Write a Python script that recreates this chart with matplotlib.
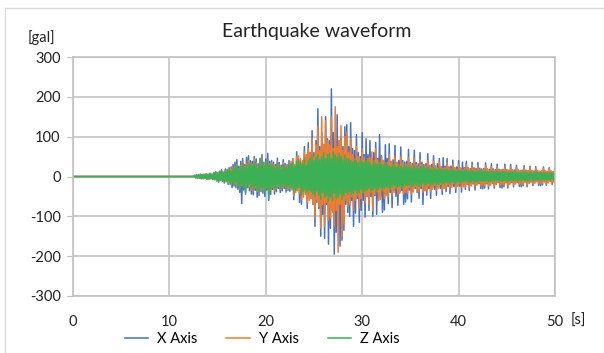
import numpy as np
import matplotlib.pyplot as plt

# samples every 0.1 s starting at 12.5 s (before that the record is flat)
t_start = 12.5
dt = 0.1

x_axis = [0,
    3, -3, 4, -5, 3, -4, 6, -4, 5, -6, 4, -5, 7, -6, 5, -7, 8, -5, 6, -7,
    10, -8, 12, -11, 9, -14, 13, -10, 17, -12, 11, -16, 19, -13, 15, -20, 22, -15, 24, -28,
    30, -24, 36, -28, 42, -32, 26, -40, 38, -68, 45, -34, 30, -40, 48, -28, 52, -36, 40, -44,
    38, -46, 50, -35, 44, -52, 32, -48, 46, -38, 55, -42, 36, -50, 44, -34, 58, -60, 38, -45,
    40, -32, 36, -44, 30, -38, 46, -30, 35, -40, 28, -36, 42, -30, 33, -39, 30, -35, 40, -37,
    30, -28, 45, -58, 25, -35, 62, -30, 40, -65, 35, -70, 32, -45, 75, -38, 50, -80, 85, -48,
    60, -55, 115, -70, 60, -125, 90, -65, 170, -80, 75, -150, 110, -95, 80, -155, 150, -70, 95, -170,
    90, -130, 220, -85, 110, -195, 95, -140, 155, -100, 80, -175, 100, -160, 75, -135, 125, -70, 130, -90,
    75, -100, 135, -60, 70, -125, 65, -92, 105, -55, 60, -115, 50, -85, 110, -60, 55, -102, 95, -50,
    55, -85, 90, -50, 45, -100, 60, -48, 85, -95, 45, -60, 105, -50, 52, -90, 40, -84, 80, -45,
    45, -68, 82, -40, 38, -78, 42, -36, 78, -50, 35, -72, 40, -38, 74, -35, 40, -70, 36, -64,
    38, -56, 68, -34, 35, -64, 32, -38, 66, -30, 35, -40, 32, -55, 60, -30, 36, -70, 30, -35,
    32, -47, 57, -30, 28, -55, 30, -28, 52, -32, 26, -47, 32, -26, 45, -30, 24, -45, 47, -28,
    26, -38, 45, -25, 24, -43, 26, -22, 41, -25, 22, -40, 24, -22, 40, -24, 21, -39, 36, -22,
    22, -32, 38, -20, 22, -35, 20, -22, 36, -19, 22, -34, 20, -20, 35, -18, 21, -30, 19, -31,
    20, -29, 34, -18, 19, -31, 18, -20, 32, -17, 19, -29, 17, -19, 31, -16, 18, -28, 17, -29,
    18, -26, 31, -16, 17, -29, 16, -18, 30, -15, 17, -26, 16, -17, 28, -15, 16, -25, 15, -26,
    16, -23, 27, -14, 15, -26, 15, -16, 26, -14, 15, -23, 14, -15, 25, -13, 15, -22, 13, -23,
    14, -21, 24, -13, 14, -22, 13, -14, 22, -12, 13, -20, 12, -13, 21]

y_axis = [0,
    2, -2, 3, -4, 2, -3, 5, -3, 4, -5, 3, -4, 6, -5, 4, -6, 7, -4, 5, -6,
    8, -6, 10, -9, 7, -12, 11, -8, 14, -10, 9, -13, 16, -11, 12, -15, 18, -13, 20, -16,
    22, -18, 26, -20, 30, -24, 19, -32, 28, -22, 36, -27, 25, -30, 33, -21, 40, -26, 29, -35,
    30, -36, 44, -28, 34, -38, 26, -42, 38, -30, 46, -33, 29, -37, 36, -28, 42, -40, 31, -35,
    34, -26, 30, -36, 24, -31, 38, -25, 29, -33, 22, -28, 35, -23, 27, -32, 25, -29, 33, -30,
    38, -34, 44, -48, 30, -40, 50, -36, 52, -42, 45, -58, 40, -52, 62, -45, 55, -66, 70, -60,
    60, -55, 95, -70, 50, -105, 80, -60, 125, -75, 65, -130, 150, -70, 80, -125, 140, -65, 90, -110,
    80, -105, 150, -90, 70, -125, 175, -85, 75, -190, 90, -70, 128, -150, 65, -120, 100, -60, 112, -75,
    60, -70, 95, -50, 55, -85, 45, -60, 75, -48, 50, -80, 42, -55, 70, -40, 48, -65, 38, -50,
    45, -70, 48, -40, 62, -85, 40, -45, 70, -38, 42, -60, 35, -58, 50, -36, 40, -55, 34, -48,
    35, -50, 55, -32, 38, -48, 30, -40, 52, -30, 36, -45, 30, -42, 50, -28, 34, -44, 28, -40,
    30, -42, 48, -28, 32, -44, 26, -38, 46, -25, 30, -40, 24, -36, 42, -24, 30, -40, 22, -36,
    26, -36, 40, -24, 28, -38, 22, -32, 38, -22, 26, -34, 21, -30, 36, -20, 25, -34, 20, -30,
    22, -30, 34, -20, 24, -32, 19, -27, 32, -18, 22, -30, 18, -25, 30, -17, 21, -28, 17, -26,
    20, -26, 30, -18, 21, -28, 17, -24, 28, -16, 19, -26, 16, -22, 27, -15, 18, -24, 15, -23,
    18, -23, 27, -16, 19, -25, 15, -22, 25, -15, 17, -23, 14, -20, 24, -14, 16, -22, 14, -21,
    16, -21, 25, -15, 17, -23, 14, -20, 24, -13, 16, -21, 13, -19, 23, -13, 15, -20, 13, -19,
    15, -19, 23, -14, 16, -21, 13, -18, 22, -12, 15, -19, 12, -17, 21, -12, 14, -18, 12, -17,
    14, -17, 21, -13, 15, -19, 12, -16, 20, -11, 14, -17, 11, -15, 19]

z_axis = [0,
    2, -3, 4, -2, 5, -4, 3, -6, 5, -3, 6, -5, 4, -7, 6, -4, 8, -6, 5, -7,
    9, -7, 11, -10, 6, -13, 12, -8, 15, -11, 9, -16, 14, -12, 18, -10, 16, -20, 13, -15,
    20, -18, 24, -15, 28, -22, 17, -30, 25, -20, 32, -26, 22, -45, 27, -24, 30, -19, 34, -28,
    26, -33, 38, -24, 30, -35, 22, -40, 36, -28, 42, -30, 25, -38, 34, -26, 40, -55, 28, -33,
    30, -24, 26, -32, 20, -28, 34, -22, 27, -30, 18, -26, 31, -20, 24, -29, 22, -25, 30, -27,
    32, -28, 36, -40, 25, -34, 38, -30, 42, -26, 35, -45, 30, -38, 44, -33, 28, -41, 39, -35,
    46, -38, 52, -44, 40, -50, 48, -36, 55, -47, 42, -58, 50, -40, 60, -52, 45, -48, 56, -62,
    58, -50, 45, -60, 62, -42, 54, -56, 48, -52, 57, -44, 50, -58, 42, -48, 53, -40, 46, -45,
    44, -38, 40, -46, 36, -42, 45, -35, 39, -44, 34, -40, 42, -32, 38, -41, 35, -37, 40, -34,
    38, -30, 35, -36, 28, -34, 40, -29, 33, -37, 30, -32, 36, -27, 31, -35, 28, -30, 34, -26,
    30, -28, 26, -32, 24, -27, 31, -22, 28, -29, 23, -26, 30, -24, 26, -28, 22, -25, 27, -23,
    25, -22, 28, -20, 23, -26, 21, -24, 27, -19, 24, -22, 20, -25, 23, -21, 26, -18, 22, -24,
    21, -19, 23, -17, 20, -22, 18, -20, 22, -16, 19, -21, 17, -19, 21, -15, 18, -20, 16, -18,
    17, -15, 19, -16, 15, -18, 16, -14, 18, -15, 14, -17, 16, -13, 17, -15, 14, -16, 15, -13,
    15, -13, 16, -12, 14, -15, 13, -14, 15, -11, 13, -14, 12, -13, 14, -12, 15, -11, 13, -12,
    13, -12, 14, -11, 12, -13, 11, -12, 13, -10, 12, -12, 11, -11, 13, -10, 12, -11, 10, -12,
    12, -10, 13, -11, 11, -12, 10, -11, 12, -9, 11, -10, 12, -10, 10, -11, 11, -9, 10, -10,
    11, -9, 12, -10, 10, -11, 9, -10, 11, -8, 10, -10, 9, -9, 11, -8, 10, -9, 9, -10,
    10, -8, 9, -9, 10, -8, 9, -9, 8, -8, 9, -7, 8, -8, 9]

t = np.concatenate([[0.0], t_start + dt * np.arange(len(x_axis))])

plt.rcParams['font.family'] = ['Lato', 'DejaVu Sans']
plt.rcParams['axes.unicode_minus'] = False

fig = plt.figure(figsize=(6.04, 3.53), dpi=100)
ax = fig.add_axes([0.1209, 0.1615, 0.798, 0.677])

ax.plot(t, [0] + x_axis, color='#4472C4', lw=1.1, label='X Axis')
ax.plot(t, [0] + y_axis, color='#ED7D31', lw=1.1, label='Y Axis')
ax.plot(t, [0] + z_axis, color='#3CB054', lw=1.1, label='Z Axis')

ax.set_xlim(0, 50)
ax.set_ylim(-300, 300)
ax.set_xticks(range(0, 51, 10))
ax.set_yticks(range(-300, 301, 100))
ax.grid(True, color='#BFBFBF', lw=1.1)
ax.set_axisbelow(True)
for s in ax.spines.values():
    s.set_color('#BFBFBF')
    s.set_linewidth(1.1)
ax.tick_params(axis='y', length=4, color='#BFBFBF', labelsize=10.5, labelcolor='#222222', pad=5)
ax.tick_params(axis='x', length=0, labelsize=10.5, labelcolor='#222222', pad=14)

fig.text(0.525, 0.91, 'Earthquake waveform', ha='center', va='center', fontsize=14, color='#222222')
fig.text(0.068, 0.895, '[gal]', ha='center', va='center', fontsize=10.5, color='#222222')
fig.text(0.957, 0.09, '[s]', ha='center', va='center', fontsize=10.5, color='#222222')

fig.legend(loc='center', bbox_to_anchor=(0.434, 0.04), ncol=3, frameon=False,
           fontsize=10.5, handlelength=1.6, columnspacing=2.0, handletextpad=0.6)

# chart area border (only top and left visible in the crop)
fig.add_artist(plt.Line2D([0.008, 0.008], [0.0, 0.977], color='#D9D9D9', lw=1))
fig.add_artist(plt.Line2D([0.008, 1.0], [0.977, 0.977], color='#D9D9D9', lw=1))

fig.savefig('out.png', dpi=100)
